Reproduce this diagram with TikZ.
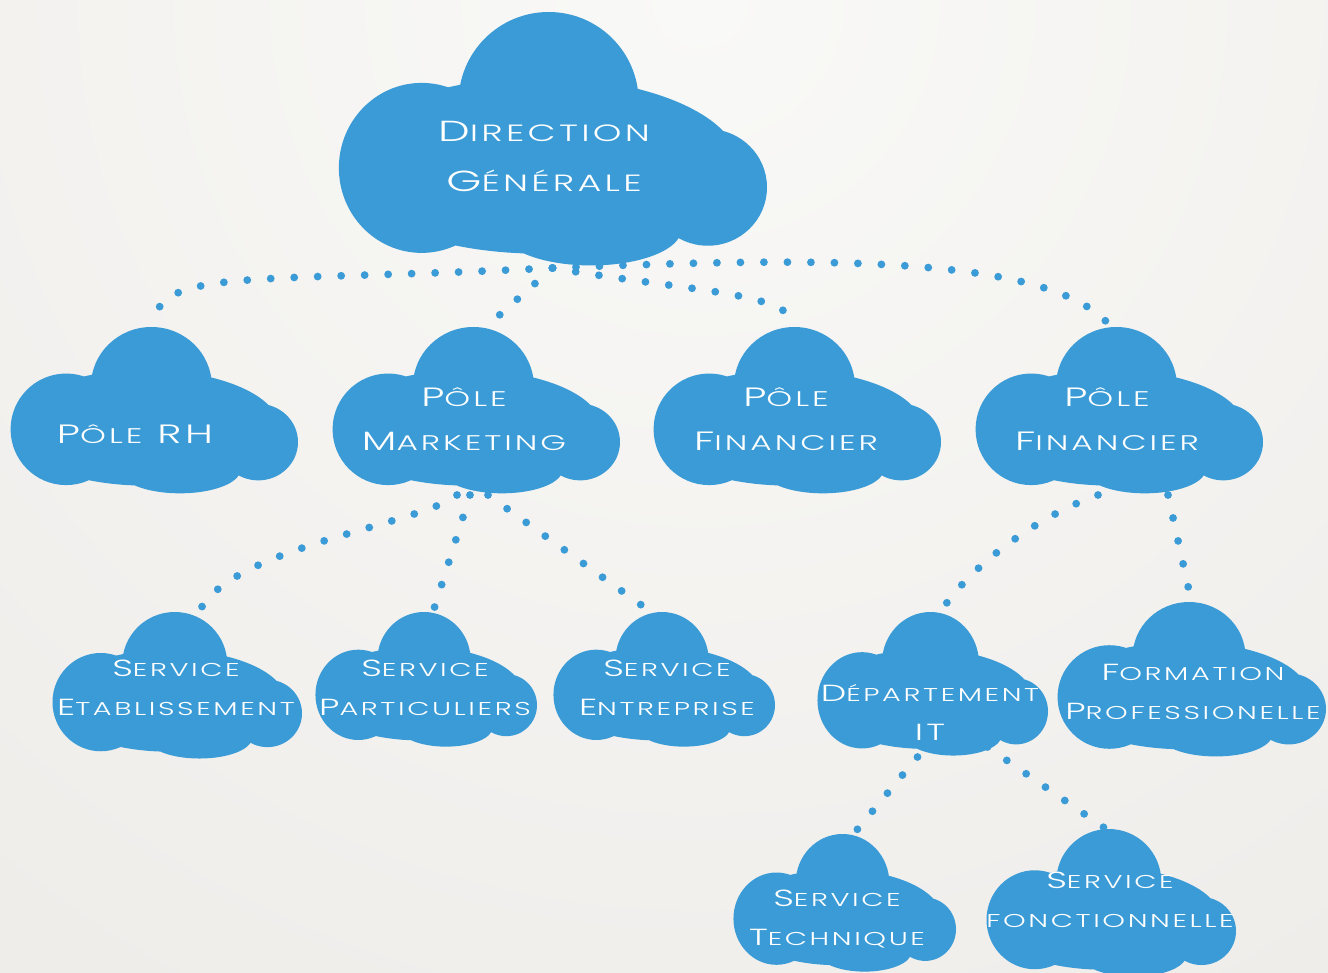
\documentclass[tikz,border=0pt]{standalone}
\usepackage{fontspec}
\newfontfamily\cf[FakeStretch=1.55,LetterSpace=14]{Poppins Light}
\usetikzlibrary{calc}
\definecolor{cloudblue}{RGB}{58,155,214}
\definecolor{bgin}{RGB}{249,249,247}
\definecolor{bgout}{RGB}{229,225,221}
\pgfdeclarelayer{back}
\pgfdeclarelayer{conn}
\pgfsetlayers{back,conn,main}
\newcommand\sm[1]{{\fontsize{\smsz}{\smsz}\selectfont #1}}
\newcommand\lv[3]{\def\smsz{#2pt}\fontsize{#1pt}{#3pt}\selectfont}
\newcommand\cloud[5]{%
  \pgfmathsetmacro\cw{#4-#2}\pgfmathsetmacro\ch{#5-#3}%
  \node[cbox, minimum width=\cw pt, minimum height=\ch pt] (#1) at ({(#2+#4)/2},{(#3+#5)/2}) {};
  \begin{scope}[shift={(#2,#3)}, x=\cw pt, y=-\ch pt]
    \fill[cloudblue] (0.491,0.352) ellipse [x radius=0.21, y radius=0.352]
      (0.195,0.609) ellipse [x radius=0.193, y radius=0.332]
      (0.47,0.6) ellipse [x radius=0.465, y radius=0.344]
      (0.862,0.685) ellipse [x radius=0.138, y radius=0.228]
      (0.59,0.85) ellipse [x radius=0.21, y radius=0.14];
  \end{scope}}
\tikzset{
  cbox/.style={rectangle, inner sep=0pt, outer sep=0pt, draw=none},
  conn/.style={draw=cloudblue, line width=7.8pt, line cap=round, dash pattern=on 0pt off 23.5pt},
  txt/.style={text=white, font=\cf, align=center, inner sep=0pt},
  lvA/.style={font=\cf\lv{29}{23.5}{50}},
  lvB/.style={font=\cf\lv{26.5}{21.2}{44}},
  lvC/.style={font=\cf\lv{23.3}{18.6}{39}},
}
\begin{document}
\begin{tikzpicture}[x=1pt,y=-1pt]
\useasboundingbox (0,0) rectangle (1328,973);
\begin{pgfonlayer}{back}
  \begin{scope}
    \clip (0,0) rectangle (1328,973);
    \shade[inner color=bgin, outer color=bgout] (700,0) circle [radius=2300];
  \end{scope}
\end{pgfonlayer}

\cloud{dg}{338}{12}{767}{268}
\cloud{rh}{10}{327}{298}{495}
\cloud{mk}{332}{327}{620}{495}
\cloud{fa}{653}{327}{941}{495}
\cloud{fb}{975}{327}{1263}{495}
\cloud{se}{52}{612}{302}{760}
\cloud{sp}{315}{612}{537}{748}
\cloud{sn}{553}{612}{775}{748}
\cloud{dit}{817}{612}{1048}{757}
\cloud{fp}{1057}{602}{1326}{758}
\cloud{st}{733}{834}{956}{973}
\cloud{sf}{986}{829}{1236}{978}

\node[txt, lvA] (tdg) at (544,156) {D\sm{IRECTION}\\G\sm{ÉNÉRALE}};
\node[txt, lvB] (trh) at (135,434) {P\sm{ÔLE} RH};
\node[txt, lvB] (tmk) at (464,419) {P\sm{ÔLE}\\M\sm{ARKETING}};
\node[txt, lvB] (tfa) at (786,419) {P\sm{ÔLE}\\F\sm{INANCIER}};
\node[txt, lvB] (tfb) at (1107,419) {P\sm{ÔLE}\\F\sm{INANCIER}};
\node[txt, lvC] (tse) at (176,688) {S\sm{ERVICE}\\E\sm{TABLISSEMENT}};
\node[txt, lvC] (tsp) at (425,688) {S\sm{ERVICE}\\P\sm{ARTICULIERS}};
\node[txt, lvC] (tsn) at (667,688) {S\sm{ERVICE}\\E\sm{NTREPRISE}};
\node[txt, lvC] (tdit) at (930,712) {D\sm{ÉPARTEMENT}\\IT};
\node[txt, lvC] (tfp) at (1193,692) {F\sm{ORMATION}\\P\sm{ROFESSIONELLE}};
\node[txt, lvC] (tst) at (837,919) {S\sm{ERVICE}\\T\sm{ECHNIQUE}};
\node[txt, lvC] (tsf) at (1110,900) {S\sm{ERVICE}\\\sm{FONCTIONNELLE}};

\begin{pgfonlayer}{conn}
  \draw[conn] (dg.south) .. controls +(-300,15) and +(0,-60) .. (rh.north);
  \draw[conn] (dg.south) -- ([xshift=10pt]mk.north);
  \draw[conn] (dg.south) .. controls +(150,25) and +(-10,-35) .. (fa.north);
  \draw[conn] (dg.south) .. controls +(250,-10) and +(-60,-75) .. ([xshift=-8pt]fb.north);
  \draw[conn] ([xshift=-19pt]mk.south) .. controls +(-37,30) and +(31,-65) .. ([xshift=22pt]se.north);
  \draw[conn] ([xshift=-6pt]mk.south) -- ([xshift=7pt]sp.north);
  \draw[conn] ([xshift=12pt]mk.south) -- ([xshift=-13pt]sn.north);
  \draw[conn] ([xshift=-21pt]fb.south) .. controls +(-58,20) and +(30,-47) .. ([xshift=8pt]dit.north);
  \draw[conn] ([xshift=49pt]fb.south) -- (fp.north);
  \draw[conn] ([xshift=-15pt]dit.south) -- ([xshift=9pt]st.north);
  \draw[conn] ([xshift=55pt,yshift=10pt]dit.south) -- ([xshift=-5pt]sf.north);
\end{pgfonlayer}
\end{tikzpicture}
\end{document}
